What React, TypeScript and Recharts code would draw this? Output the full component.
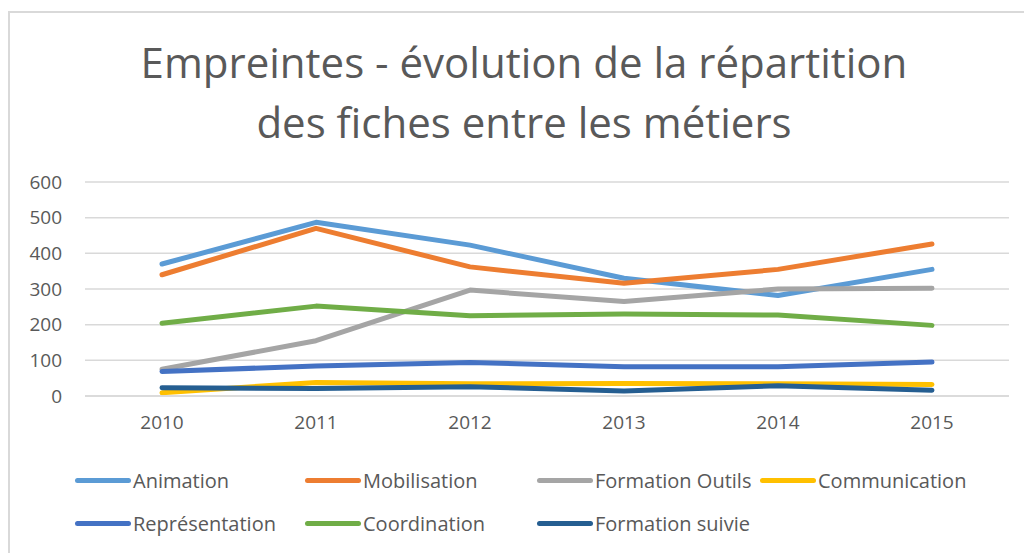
import { LineChart, Line, XAxis, YAxis, CartesianGrid, Legend } from 'recharts';

const years = ['2010', '2011', '2012', '2013', '2014', '2015'];

const animation = [370, 487, 423, 330, 282, 355];
const mobilisation = [340, 470, 362, 316, 355, 426];
const formationOutils = [75, 155, 297, 265, 300, 302];
const communication = [9, 38, 34, 35, 34, 32];
const representation = [69, 84, 94, 82, 82, 95];
const coordination = [204, 252, 225, 230, 227, 198];
const formationSuivie = [23, 21, 26, 14, 29, 16];

const yTicks = [0, 100, 200, 300, 400, 500, 600];

const series = [
  { key: 'animation', name: 'Animation', color: '#5B9BD5', values: animation },
  { key: 'mobilisation', name: 'Mobilisation', color: '#ED7D31', values: mobilisation },
  { key: 'formationOutils', name: 'Formation Outils', color: '#A5A5A5', values: formationOutils },
  { key: 'communication', name: 'Communication', color: '#FFC000', values: communication },
  { key: 'representation', name: 'Représentation', color: '#4472C4', values: representation },
  { key: 'coordination', name: 'Coordination', color: '#70AD47', values: coordination },
  { key: 'formationSuivie', name: 'Formation suivie', color: '#255E91', values: formationSuivie },
];

const data = years.map((year, i) => {
  const row: Record<string, string | number> = { year };
  series.forEach((s) => {
    row[s.key] = s.values[i];
  });
  return row;
});

const FONT = '"Open Sans", sans-serif';
const TEXT = '#595959';

// legend slots, Excel-style two rows
const legendSlots = [
  { left: 75, top: 467 },
  { left: 305, top: 467 },
  { left: 537, top: 467 },
  { left: 760, top: 467 },
  { left: 75, top: 510 },
  { left: 305, top: 510 },
  { left: 537, top: 510 },
];

function ChartLegend() {
  return (
    <div style={{ position: 'absolute', left: 0, top: 0, width: 1024, height: 553, pointerEvents: 'none' }}>
      {series.map((s, i) => (
        <div
          key={s.key}
          style={{
            position: 'absolute',
            left: legendSlots[i].left,
            top: legendSlots[i].top,
            height: 26,
            display: 'flex',
            alignItems: 'center',
            fontFamily: FONT,
            fontSize: 20,
            color: TEXT,
            whiteSpace: 'nowrap',
          }}
        >
          <span style={{ display: 'inline-block', width: 56, height: 5, borderRadius: 3, background: s.color, marginRight: 2 }} />
          <span>{s.name}</span>
        </div>
      ))}
    </div>
  );
}

export default function App() {
  return (
    <div style={{ position: 'absolute', left: 0, top: 0, width: 1024, height: 553, overflow: 'hidden', background: '#fff' }}>
      <div
        style={{
          position: 'absolute',
          left: 8,
          top: 11,
          width: 1100,
          height: 700,
          border: '2px solid #d9d9d9',
        }}
      />
      <div
        style={{
          position: 'absolute',
          left: 0,
          top: 32,
          width: 1048,
          textAlign: 'center',
          fontFamily: FONT,
          fontSize: 42,
          lineHeight: '60px',
          color: TEXT,
        }}
      >
        Empreintes - évolution de la répartition
        <br />
        des fiches entre les métiers
      </div>
      <div style={{ position: 'absolute', left: 0, top: 0 }}>
        <LineChart width={1024} height={553} data={data} margin={{ top: 182, right: 15, bottom: 117, left: 0 }}>
          <CartesianGrid vertical={false} stroke="#d9d9d9" strokeWidth={1.5} />
          <XAxis
            dataKey="year"
            padding={{ left: 77, right: 77 }}
            axisLine={{ stroke: '#d9d9d9', strokeWidth: 1.5 }}
            tickLine={false}
            tickSize={0}
            tickMargin={20}
            height={40}
            tick={{ fill: TEXT, fontSize: 19, fontFamily: FONT }}
          />
          <YAxis
            domain={[0, 600]}
            ticks={yTicks}
            axisLine={false}
            tickLine={false}
            tickSize={0}
            tickMargin={23}
            width={85}
            interval={0}
            tick={{ fill: TEXT, fontSize: 19, fontFamily: FONT }}
          />
          <Legend content={() => null} />
          {series.map((s) => (
            <Line
              key={s.key}
              type="linear"
              dataKey={s.key}
              name={s.name}
              stroke={s.color}
              strokeWidth={5}
              strokeLinecap="round"
              strokeLinejoin="round"
              dot={false}
              activeDot={false}
              isAnimationActive={false}
            />
          ))}
        </LineChart>
      </div>
      <ChartLegend />
    </div>
  );
}
